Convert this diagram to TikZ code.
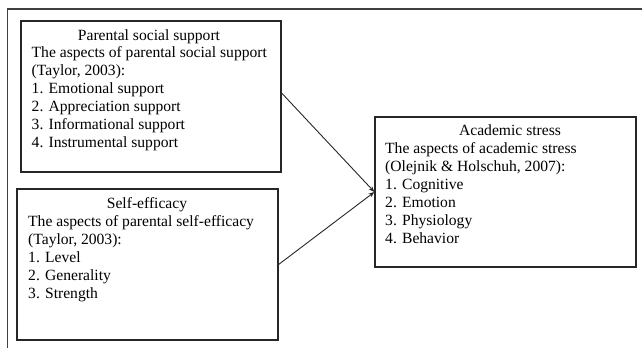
\documentclass[tikz,border=0pt]{standalone}
\usepackage{fontspec}
\setmainfont{Liberation Serif}
\usetikzlibrary{positioning,arrows.meta}

\tikzset{
  frame/.style={draw=black!75, line width=1.5pt},
  box/.style={draw=black!85, line width=1.2pt, inner sep=0pt},
  heading/.style={anchor=base, inner sep=0pt, font=\fontsize{15.6}{18}\selectfont},
  items/.style={anchor=base west, align=left, inner sep=0pt, font=\fontsize{15.6}{18}\selectfont},
  link/.style={draw=black!85, line width=0.9pt, -{Stealth[length=6pt,width=4.5pt]}}
}

\begin{document}
\begin{tikzpicture}[x=1pt,y=-1pt]
            \useasboundingbox (0,0) rectangle (642,348);
            % outer frame
            \draw[frame] (642,9) -- (7.5,9) -- (7.5,348);
            % the three boxes
            \node[box, minimum width=260pt, minimum height=151pt] (support) at (151,96.5) {};
            \node[box, minimum width=261pt, minimum height=151pt] (efficacy) at (147.5,264.5) {};
            \node[box, minimum width=261pt, minimum height=150pt] (stress) at (505.5,192) {};
            % texts (items placed at the baseline of their last line)
            \node[heading] (supporthead) at (149,40) {Parental social support};
            \node[items] (supportitems) at (31.5,147.8) {The aspects of parental social support\\(Taylor, 2003):\\1. Emotional support\\2. Appreciation support\\3. Informational support\\4. Instrumental support};
            \node[heading] (efficacyhead) at (147,208) {Self-efficacy};
            \node[items] (efficacyitems) at (28,298.3) {The aspects of parental self-efficacy\\(Taylor, 2003):\\1. Level\\2. Generality\\3. Strength};
            \node[heading] (stresshead) at (510,135) {Academic stress};
            \node[items] (stressitems) at (385,243) {The aspects of academic stress\\(Olejnik \& Holschuh, 2007):\\1. Cognitive\\2. Emotion\\3. Physiology\\4. Behavior};
            % links
            \draw[link] ([yshift=3.5pt]support.east) -- (stress.west);
            \draw[link] (efficacy.east) -- (stress.west);
        \end{tikzpicture}
\end{document}
